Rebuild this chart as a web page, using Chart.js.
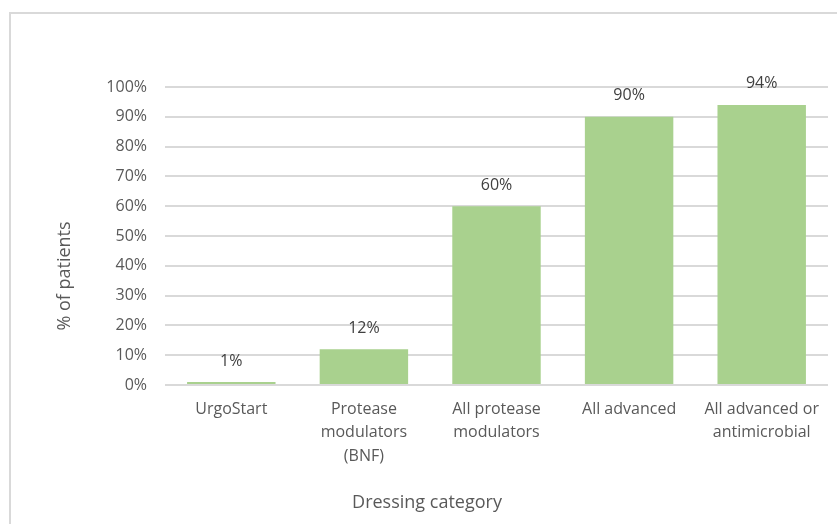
<!DOCTYPE html>
<html>
<head>
<meta charset="utf-8">
<script src="https://cdn.jsdelivr.net/npm/chart.js@4"></script>
<style>
  html, body { margin: 0; padding: 0; background: #fff; }
  #wrap { width: 837px; height: 524px; position: relative; }
</style>
</head>
<body>
<div id="wrap"><canvas id="c" width="837" height="524"></canvas></div>
<script>
// Share of patients by dressing category
const categories = [
  ['UrgoStart'],
  ['Protease', 'modulators', '(BNF)'],
  ['All protease', 'modulators'],
  ['All advanced'],
  ['All advanced or', 'antimicrobial']
];
const patientShare = [1, 12, 60, 90, 94];
const yTicks = [0, 10, 20, 30, 40, 50, 60, 70, 80, 90, 100];
const xTitle = 'Dressing category';
const yTitle = '% of patients';

const FONT = '"Open Sans", sans-serif';
const TEXT = '#595959';

// value labels above each bar
const valueLabels = {
  id: 'valueLabels',
  afterDatasetsDraw(chart) {
    const ctx = chart.ctx;
    const meta = chart.getDatasetMeta(0);
    ctx.save();
    ctx.font = '16px ' + FONT;
    ctx.fillStyle = '#404040';
    ctx.textAlign = 'center';
    ctx.textBaseline = 'middle';
    meta.data.forEach((bar, i) => {
      ctx.fillText(patientShare[i] + '%', bar.x, bar.y - 21);
    });
    ctx.restore();
  }
};

// frame around the chart and the two axis titles
const frameAndTitles = {
  id: 'frameAndTitles',
  beforeDraw(chart) {
    const ctx = chart.ctx;
    ctx.save();
    ctx.strokeStyle = '#d9d9d9';
    ctx.lineWidth = 2;
    ctx.beginPath();
    ctx.moveTo(10, chart.height + 5);
    ctx.lineTo(10, 13);
    ctx.lineTo(chart.width + 5, 13);
    ctx.stroke();
    ctx.restore();
  },
  afterDraw(chart) {
    const ctx = chart.ctx;
    const area = chart.chartArea;
    ctx.save();
    ctx.font = '18px ' + FONT;
    ctx.fillStyle = TEXT;
    ctx.textAlign = 'center';
    ctx.textBaseline = 'middle';
    ctx.fillText(xTitle, 427, 503);
    ctx.translate(65, area.bottom - 109);
    ctx.rotate(-Math.PI / 2);
    ctx.fillText(yTitle, 0, 0);
    ctx.restore();
  }
};

new Chart(document.getElementById('c'), {
  type: 'bar',
  data: {
    labels: categories,
    datasets: [{
      data: patientShare,
      backgroundColor: '#a9d18e',
      borderWidth: 0,
      barPercentage: 0.667,
      categoryPercentage: 1.0
    }]
  },
  options: {
    responsive: false,
    animation: false,
    layout: { padding: { left: 40, right: 9, top: 87, bottom: 4 } },
    plugins: { legend: { display: false }, tooltip: { enabled: false } },
    scales: {
      x: {
        grid: { display: false, drawTicks: false },
        border: { display: false },
        ticks: {
          color: TEXT,
          font: { family: FONT, size: 16, lineHeight: 1.45 },
          padding: 13,
          maxRotation: 0,
          autoSkip: false
        },
        afterFit(scale) { scale.height = 524 - 385 - 4; }
      },
      y: {
        min: 0,
        max: 100,
        afterBuildTicks(scale) { scale.ticks = yTicks.map(v => ({ value: v })); },
        grid: { color: '#d9d9d9', lineWidth: 2, drawTicks: false },
        border: { display: false },
        ticks: {
          color: TEXT,
          font: { family: FONT, size: 16 },
          padding: 18,
          callback: v => v + '%'
        },
        afterFit(scale) { scale.width = 165 - 40; }
      }
    }
  },
  plugins: [frameAndTitles, valueLabels]
});
</script>
</body>
</html>
